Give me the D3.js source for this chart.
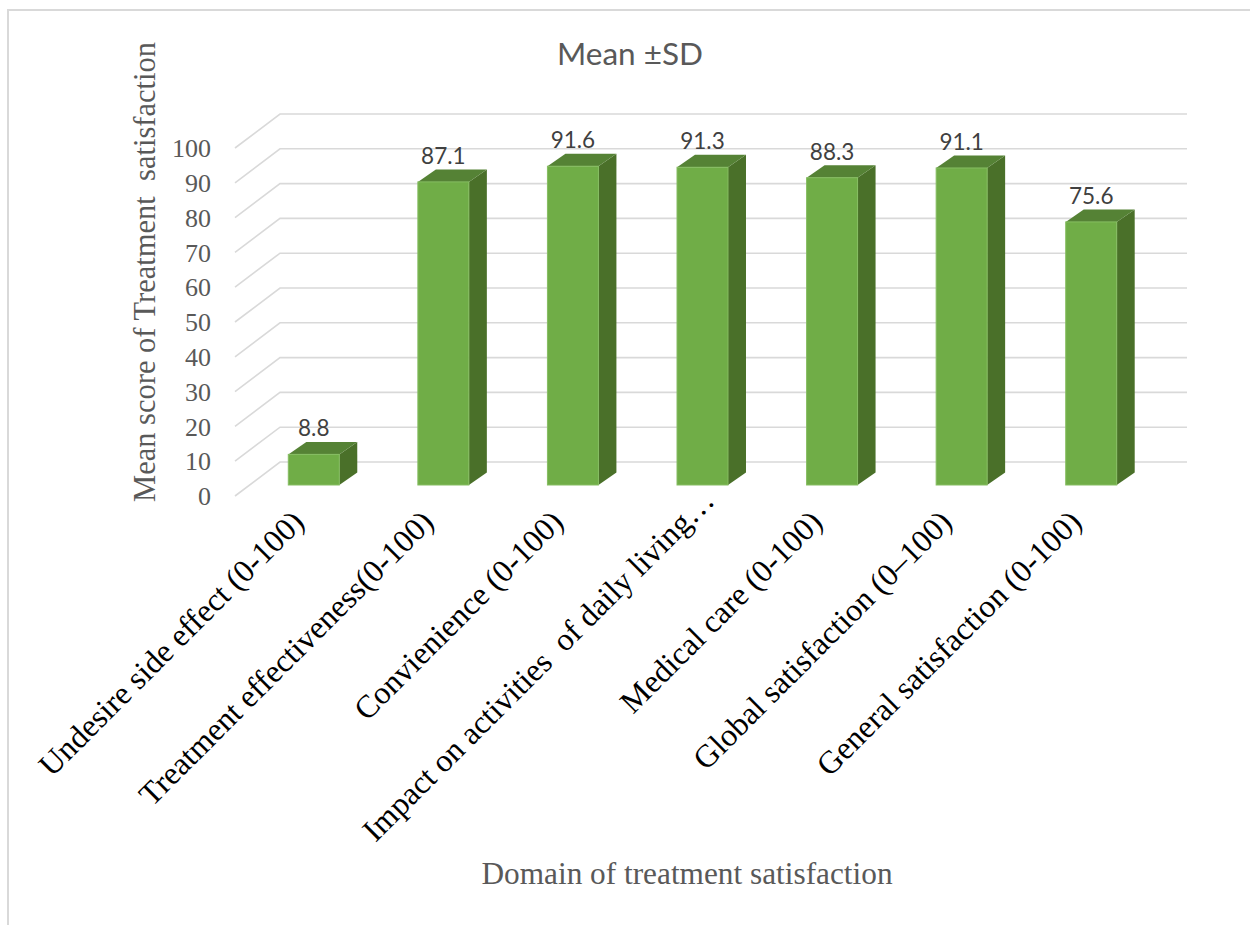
<!DOCTYPE html>
<html>
<head>
<meta charset="utf-8">
<script src="https://cdn.jsdelivr.net/npm/d3@7"></script>
<style>
  html, body { margin: 0; padding: 0; background: #fff; }
  svg { display: block; }
  text { white-space: pre; }
</style>
</head>
<body>
<svg id="chart" width="1250" height="925"></svg>
<script>
// ---- data ----
const categories = [
  "Undesire side effect (0-100)",
  "Treatment effectiveness(0-100)",
  "Convienience (0-100)",
  "Impact on activities  of daily living\u2026",
  "Medical care (0-100)",
  "Global satisfaction (0\u2013100)",
  "General satisfaction (0-100)"
];
const values = [8.8, 87.1, 91.6, 91.3, 88.3, 91.1, 75.6];
const yTicks = [0, 10, 20, 30, 40, 50, 60, 70, 80, 90, 100];
const titleText = "Mean \u00B1SD";
const yTitle = "Mean score of Treatment  satisfaction";
const xTitle = "Domain of treatment satisfaction";

// ---- layout ----
const svg = d3.select("#chart");
const wallLeft = 280, wallRight = 1187;
const depthX = -45, depthY = 34;        // back wall -> front edge offset
const barShiftX = -31, barShiftY = 23;  // back wall -> bar front face
const barDX = 18, barDY = -12.5;        // bar depth
const labelAnchorY = 524, labelMaxStartY = 843;

const yBack = d3.scaleLinear().domain([0, 100]).range([462, 114]);
const x = d3.scaleBand().domain(categories).range([wallLeft, wallRight])
  .paddingInner(0.6065).paddingOuter(0.30325);

// chart border
svg.append("rect").attr("x", 8).attr("y", 10).attr("width", 1260).attr("height", 940)
  .attr("fill", "none").attr("stroke", "#d9d9d9").attr("stroke-width", 2);

// title
svg.append("text").attr("x", 630).attr("y", 65).attr("text-anchor", "middle")
  .attr("font-family", "Lato, 'Open Sans', sans-serif").attr("font-size", 31.5)
  .attr("fill", "#595959").text(titleText);

// gridlines (back wall + side diagonal)
const grid = svg.append("g");
yTicks.forEach(t => {
  const yb = yBack(t);
  grid.append("path")
    .attr("d", `M${wallLeft + depthX},${yb + depthY}L${wallLeft},${yb}L${wallRight},${yb}`)
    .attr("fill", "none").attr("stroke", "#d9d9d9").attr("stroke-width", 1.6);
});

// y tick labels
svg.append("g").selectAll("text").data(yTicks).join("text")
  .attr("x", 211).attr("y", d => yBack(d) + depthY)
  .attr("dy", "0.35em").attr("text-anchor", "end")
  .attr("font-family", "'Liberation Serif', 'Times New Roman', serif").attr("font-size", 26)
  .attr("fill", "#595959").text(d => d);

// bars
const bars = svg.append("g").selectAll("g").data(categories).join("g");
bars.each(function(c, i) {
  const g = d3.select(this);
  const v = values[i];
  const x0 = x(c) + barShiftX;
  const w = x.bandwidth();
  const yTop = yBack(v) + barShiftY;
  const yBot = yBack(0) + barShiftY;
  g.append("path")
    .attr("d", `M${x0 + w},${yTop}L${x0 + w + barDX},${yTop + barDY}L${x0 + w + barDX},${yBot + barDY}L${x0 + w},${yBot}Z`)
    .attr("fill", "#4a7029");
  g.append("path")
    .attr("d", `M${x0},${yTop}L${x0 + barDX},${yTop + barDY}L${x0 + w + barDX},${yTop + barDY}L${x0 + w},${yTop}Z`)
    .attr("fill", "#558235");
  g.append("rect").attr("x", x0).attr("y", yTop).attr("width", w).attr("height", yBot - yTop)
    .attr("fill", "#70ad47").attr("stroke", "#86bd62").attr("stroke-width", 1);
  g.append("text").attr("x", x0 + w / 2).attr("y", yTop - 18).attr("text-anchor", "middle")
    .attr("font-family", "Lato, 'Open Sans', sans-serif").attr("font-size", 22.5)
    .attr("fill", "#404040").text(v.toFixed(1));
});

// category labels (rotated; long labels pushed up-right to stay inside the chart)
svg.append("g").selectAll("text").data(categories).join("text")
  .attr("text-anchor", "end")
  .attr("font-family", "'Liberation Serif', 'Times New Roman', serif").attr("font-size", 32)
  .attr("fill", "#000").text(c => c)
  .each(function(c) {
    const L = this.getComputedTextLength();
    const startY = labelAnchorY + L * Math.SQRT1_2;
    const shift = Math.max(0, startY - labelMaxStartY);
    const ax = x(c) + barShiftX + x.bandwidth() / 2 - 8 + shift;
    const ay = labelAnchorY - shift;
    d3.select(this).attr("transform", `translate(${ax},${ay}) rotate(-45)`);
  });

// y title
svg.append("text").attr("transform", "translate(155,272) rotate(-90)")
  .attr("text-anchor", "middle")
  .attr("font-family", "'Liberation Serif', 'Times New Roman', serif").attr("font-size", 30.5)
  .attr("fill", "#595959").text(yTitle);

// x title
svg.append("text").attr("x", 687).attr("y", 884).attr("text-anchor", "middle")
  .attr("font-family", "'Liberation Serif', 'Times New Roman', serif").attr("font-size", 31.3)
  .attr("fill", "#595959").text(xTitle);
</script>
</body>
</html>
